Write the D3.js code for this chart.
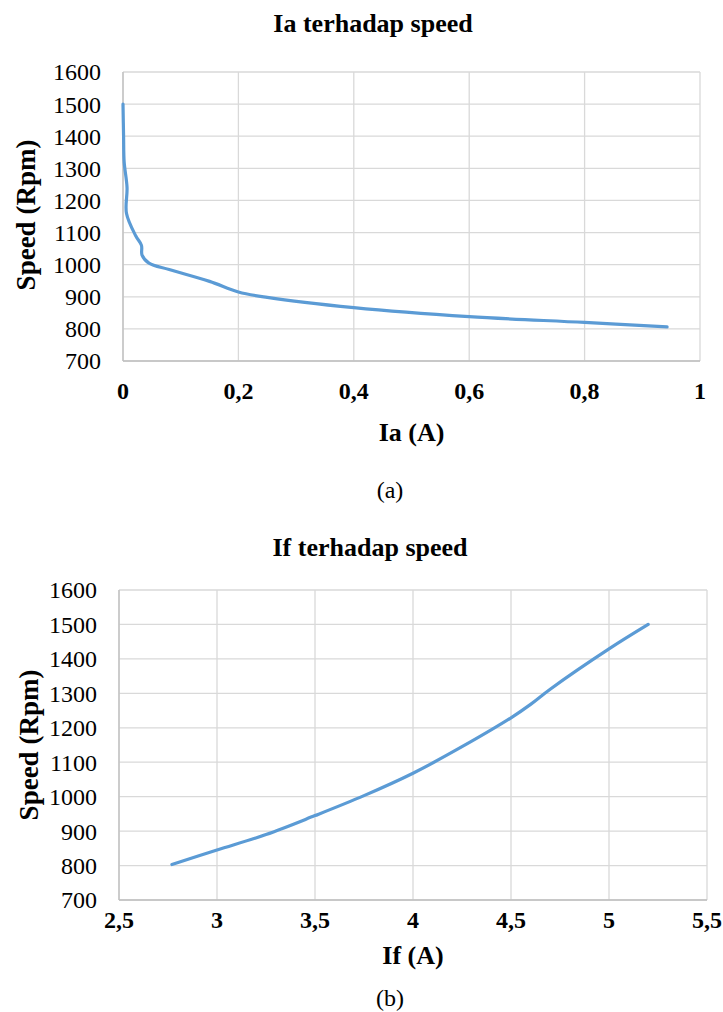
<!DOCTYPE html>
<html>
<head>
<meta charset="utf-8">
<script src="https://cdn.jsdelivr.net/npm/d3@7"></script>
</head>
<body style="margin:0; background:#fff">
<svg id="fig" width="723" height="1012"></svg>
<script>
// chart (a): armature current vs speed
const iaCurrent = [0, 0.001, 0.002, 0.007, 0.006, 0.022, 0.032, 0.033, 0.045, 0.08, 0.15, 0.2, 0.25, 0.4, 0.6, 0.8, 0.943];
const iaSpeed   = [1500, 1400, 1320, 1240, 1160, 1090, 1060, 1030, 1005, 985, 948, 915, 898, 866, 838, 820, 806];

// chart (b): field current vs speed
const ifCurrent = [2.77, 3.0, 3.25, 3.5, 3.75, 4.0, 4.25, 4.5, 4.6, 4.7, 5.0, 5.2];
const ifSpeed   = [803, 845, 890, 945, 1003, 1068, 1145, 1229, 1268, 1312, 1429, 1500];

const speedTicks = [700, 800, 900, 1000, 1100, 1200, 1300, 1400, 1500, 1600];
const iaTicks = [0, 0.2, 0.4, 0.6, 0.8, 1];
const ifTicks = [2.5, 3, 3.5, 4, 4.5, 5, 5.5];

const FONT = '"Liberation Serif", monospace';

const svg = d3.select("#fig");
svg.append("rect").attr("width", 723).attr("height", 1012).attr("fill", "#fff");

const comma = d => String(d).replace(".", ",");

function label(g, size, bold) {
    return g.append("text")
        .attr("font-family", FONT)
        .attr("font-size", size)
        .attr("font-weight", bold ? "bold" : "normal")
        .attr("fill", "#000")
        .attr("dy", "0.35em")
        .attr("text-anchor", "middle");
}

function drawChart(opt) {
    const g = svg.append("g");
    const x = d3.scaleLinear().domain(d3.extent(opt.xTicks)).range([opt.left, opt.right]);
    const y = d3.scaleLinear().domain(d3.extent(speedTicks)).range([opt.bottom, opt.top]);

    // grid
    g.append("g")
        .selectAll("line")
        .data(speedTicks)
        .join("line")
        .attr("x1", opt.left).attr("x2", opt.right)
        .attr("y1", d => y(d)).attr("y2", d => y(d))
        .attr("stroke", "#d9d9d9").attr("stroke-width", 1.3);
    g.append("g")
        .selectAll("line")
        .data(opt.xTicks)
        .join("line")
        .attr("x1", d => x(d)).attr("x2", d => x(d))
        .attr("y1", opt.top).attr("y2", opt.bottom)
        .attr("stroke", "#d9d9d9").attr("stroke-width", 1.3);

    // axis lines
    g.append("line")
        .attr("x1", opt.left).attr("x2", opt.right)
        .attr("y1", opt.bottom).attr("y2", opt.bottom)
        .attr("stroke", "#bfbfbf").attr("stroke-width", 1.3);
    g.append("line")
        .attr("x1", opt.left).attr("x2", opt.left)
        .attr("y1", opt.top).attr("y2", opt.bottom)
        .attr("stroke", "#bfbfbf").attr("stroke-width", 1.3);

    // tick labels
    g.append("g")
        .selectAll("text")
        .data(speedTicks)
        .join("text")
        .attr("font-family", FONT)
        .attr("font-size", 24)
        .attr("fill", "#000")
        .attr("x", opt.left - 22)
        .attr("y", d => y(d))
        .attr("dy", "0.35em")
        .attr("text-anchor", "end")
        .text(d => d);
    g.append("g")
        .selectAll("text")
        .data(opt.xTicks)
        .join("text")
        .attr("font-family", FONT)
        .attr("font-size", 24)
        .attr("font-weight", "bold")
        .attr("fill", "#000")
        .attr("x", d => x(d))
        .attr("y", opt.xTickY)
        .attr("dy", "0.35em")
        .attr("text-anchor", "middle")
        .text(comma);

    // titles
    label(g, 26, true).attr("x", opt.titleX).attr("y", opt.titleY).text(opt.title);
    label(g, 26, true).attr("x", (opt.left + opt.right) / 2).attr("y", opt.xTitleY).text(opt.xTitle);
    label(g, 27, true)
        .attr("transform", `translate(${opt.yTitleX}, ${opt.yTitleY}) rotate(-90)`)
        .text("Speed (Rpm)");
    label(g, 24, false).attr("x", 390).attr("y", opt.captionY).text(opt.caption);

    // series
    const pts = opt.xs.map((v, i) => [v, opt.ys[i]]);
    const line = d3.line()
        .x(d => x(d[0]))
        .y(d => y(d[1]))
        .curve(d3.curveCatmullRom.alpha(0.5));
    g.append("path")
        .attr("d", line(pts))
        .attr("fill", "none")
        .attr("stroke", "#5b9bd5")
        .attr("stroke-width", 3.2)
        .attr("stroke-linecap", "round")
        .attr("stroke-linejoin", "round");
}

drawChart({
    xs: iaCurrent, ys: iaSpeed, xTicks: iaTicks,
    left: 123, right: 700, top: 72, bottom: 361,
    title: "Ia terhadap speed", titleX: 373, titleY: 23,
    xTitle: "Ia (A)", xTickY: 391, xTitleY: 432,
    yTitleX: 26, yTitleY: 215,
    caption: "(a)", captionY: 490
});

drawChart({
    xs: ifCurrent, ys: ifSpeed, xTicks: ifTicks,
    left: 119, right: 707, top: 590, bottom: 900,
    title: "If terhadap speed", titleX: 370, titleY: 547,
    xTitle: "If (A)", xTickY: 920, xTitleY: 955,
    yTitleX: 29, yTitleY: 745,
    caption: "(b)", captionY: 998
});
</script>
</body>
</html>
